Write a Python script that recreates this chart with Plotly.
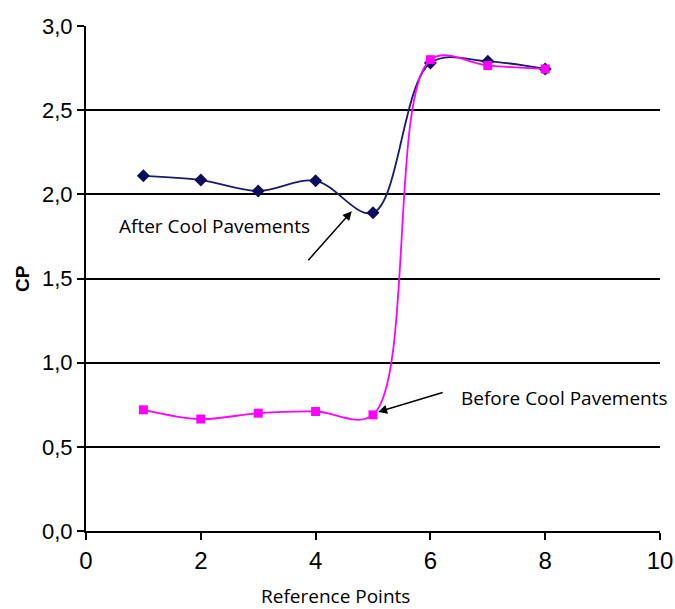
import plotly.graph_objects as go

# datos
ref_points = [1, 2, 3, 4, 5, 6, 7, 8]
cp_after = [2.11, 2.085, 2.02, 2.08, 1.89, 2.78, 2.79, 2.745]
cp_before = [0.72, 0.665, 0.70, 0.71, 0.69, 2.80, 2.765, 2.745]

fig = go.Figure()

fig.add_trace(go.Scatter(
    x=ref_points, y=cp_after,
    mode='lines+markers',
    line=dict(color='#1a1a6e', width=1.8, shape='spline', smoothing=1),
    marker=dict(symbol='diamond', size=10, color='#0d0d5c'),
    name='After Cool Pavements'
))

fig.add_trace(go.Scatter(
    x=ref_points, y=cp_before,
    mode='lines+markers',
    line=dict(color='#ff00ff', width=1.8, shape='spline', smoothing=1),
    marker=dict(symbol='square', size=9, color='#ff00ff'),
    name='Before Cool Pavements'
))

# anotaciones con flechas
fuente_txt = dict(family='Open Sans, Lato, sans-serif', size=19, color='black')
fig.add_annotation(x=4.63, y=1.9, ax=3.85, ay=1.6, xref='x', yref='y', axref='x', ayref='y',
                   text='', showarrow=True, arrowhead=2, arrowsize=1.2, arrowwidth=1.5, arrowcolor='black')
fig.add_annotation(x=2.24, y=1.81, text='After Cool Pavements', showarrow=False, font=fuente_txt)
fig.add_annotation(x=5.09, y=0.707, ax=6.24, ay=0.826, xref='x', yref='y', axref='x', ayref='y',
                   text='', showarrow=True, arrowhead=2, arrowsize=1.2, arrowwidth=1.5, arrowcolor='black')
fig.add_annotation(x=8.34, y=0.79, text='Before Cool Pavements', showarrow=False, font=fuente_txt)

# titulos de ejes como anotaciones (posicion como en la figura original)
fig.add_annotation(x=0.434, y=-0.128, xref='paper', yref='paper', xanchor='center', yanchor='middle',
                   text='Reference Points', showarrow=False, borderpad=0,
                   font=dict(family='Open Sans, Lato, sans-serif', size=19, color='black'))
fig.add_annotation(x=-0.1106, y=0.5, xref='paper', yref='paper', xanchor='center', yanchor='middle',
                   text='<b>CP</b>', textangle=-90, showarrow=False,
                   font=dict(family='Liberation Sans, Arial, sans-serif', size=19, color='black'))

fig.update_layout(
    width=675, height=609,
    margin=dict(l=86, r=15, t=26, b=78),
    paper_bgcolor='white', plot_bgcolor='white',
    showlegend=False,
    separators=',.',
    font=dict(family='Liberation Sans Narrow, Liberation Sans, Arial, sans-serif', color='black'),
    xaxis=dict(
        range=[0, 10], dtick=2, tick0=0,
        showgrid=False, zeroline=False, automargin=False,
        showline=True, linecolor='black', linewidth=2,
        ticks='outside', ticklen=7, tickwidth=2, tickcolor='black',
        tickfont=dict(size=24),
    ),
    yaxis=dict(
        range=[0, 3], dtick=0.5, tickformat='.1f',
        showgrid=True, gridcolor='black', gridwidth=1.5,
        zeroline=False, automargin=False,
        showline=True, linecolor='black', linewidth=2,
        ticks='outside', ticklen=7, tickwidth=2, tickcolor='black',
        tickfont=dict(size=22),
    ),
)

# quitar el margen del body para que la figura ocupe toda la ventana
fig.write_html("out.html", config={'displayModeBar': False},
               post_script="document.body.style.margin='0px';")
